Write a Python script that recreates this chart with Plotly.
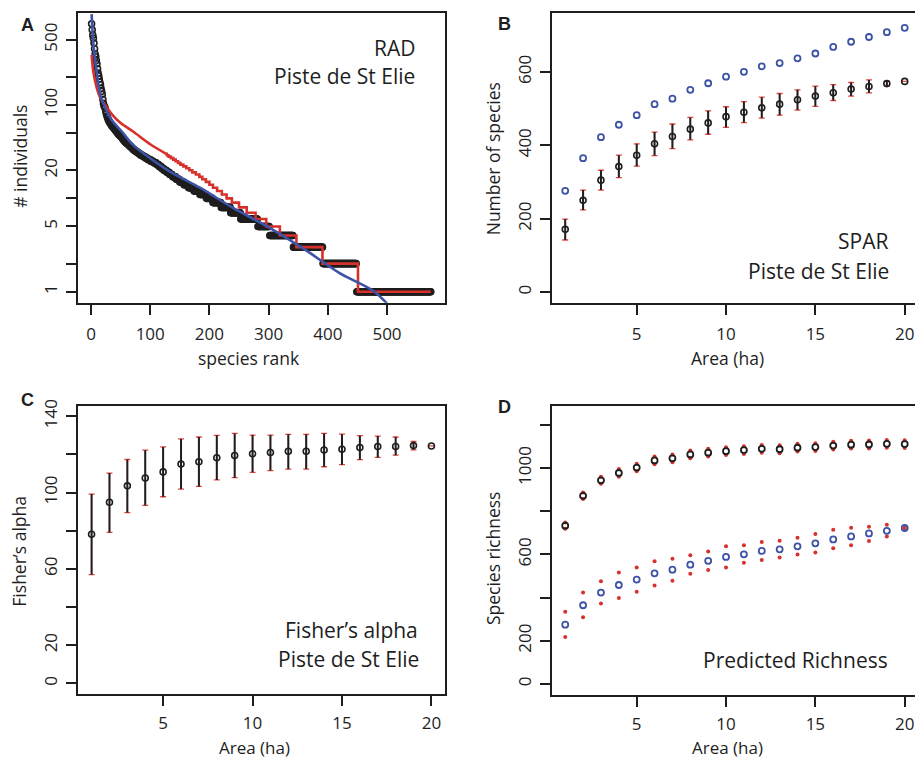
import numpy as np
import plotly.graph_objects as go

W, H = 915, 760

# ---------------- Panel A : rank abundance ----------------
black_levels = [740, 640, 560, 520, 460, 400, 352, 330, 300, 276, 245, 220, 205, 190, 175,
                165, 150, 140, 130, 115, 104, 98, 95, 92, 85, 80, 76, 73, 70, 68, 66, 64,
                63, 62, 60, 59, 58, 57, 56, 55, 54, 53, 52, 51, 50, 49,
                48, 47, 46, 45, 44, 43, 42, 41, 40, 39, 38, 37, 36, 35, 34, 33, 32, 31, 30,
                29, 28, 27, 26, 25, 24, 23, 22, 21, 20, 19, 18, 17, 16, 15, 14, 13, 12, 11,
                10, 9, 8, 7, 6, 5, 4, 3, 2, 1]
black_counts = [1] * 46 + [2, 1, 2, 1, 1, 1, 2, 1, 2, 2, 2, 2, 2, 2, 2, 3, 3, 3, 3,
                           4, 4, 4, 5, 5, 5, 4, 4, 4, 5, 5, 5, 6, 6, 7, 8, 9, 10, 11,
                           11, 14, 16, 17, 29, 20, 40, 50, 57, 126]

red_top_rank = [1, 4, 10, 15, 24, 35, 50, 71, 100, 127]
red_top_value = [345, 225, 150, 122, 100, 80, 64, 52, 38, 30]
red_levels = [29, 28, 27, 26, 25, 24, 23, 22, 21, 20, 19, 18, 17, 16, 15, 14, 13, 12, 11,
              10, 9, 8, 7, 6, 5, 4, 3, 2, 1]
red_counts = [3, 4, 4, 4, 4, 4, 5, 5, 5, 5, 6, 6, 5, 6, 6, 6, 7, 8, 8,
              9, 12, 13, 15, 18, 23, 28, 44, 60, 124]

blue_rank = [1, 4, 8, 12, 15, 18, 21, 27, 35, 52, 71, 128, 184, 240, 296, 364, 420, 476, 500]
blue_value = [940, 450, 270, 172, 132, 115, 104, 85, 69, 52, 37.4, 20.3, 13, 7.9, 5.07,
              2.75, 1.58, 1.03, 0.75]

# ---------------- Panel B : SPAR ----------------
area = list(range(1, 21))
b_mean = [171, 250, 305, 342, 373, 404, 424, 444, 461, 478, 490, 502, 512, 524, 534, 543, 553, 560, 568, 574]
b_hi = [199, 278, 332, 373, 404, 436, 458, 476, 494, 505, 519, 531, 541, 551, 561, 565, 571, 578, 575, 574]
b_lo = [142, 224, 278, 312, 343, 372, 391, 415, 430, 449, 462, 474, 482, 496, 506, 522, 534, 543, 561, 574]
b_blue = [276, 365, 422, 456, 482, 512, 527, 551, 569, 587, 600, 615, 624, 637, 650, 668, 682, 695, 708, 720]

# ---------------- Panel C : Fisher's alpha ----------------
c_mean = [78.1, 94.9, 103.5, 107.6, 110.8, 114.9, 116.1, 118.2, 119.4, 120.3, 121.0, 121.6,
          121.6, 122.3, 122.7, 123.6, 124.1, 124.1, 124.6, 124.4]
c_hi = [99.2, 110.2, 117.3, 122.2, 123.9, 128.1, 129.1, 130.0, 131.0, 130.1, 130.1, 130.5,
        130.5, 131.0, 130.6, 129.8, 129.6, 129.1, 126.8, 124.4]
c_lo = [57.0, 79.1, 89.5, 93.3, 97.8, 101.8, 103.2, 106.6, 107.8, 110.6, 111.5, 112.3,
        112.3, 113.5, 114.6, 117.2, 118.4, 119.6, 122.4, 124.4]

# ---------------- Panel D : predicted richness ----------------
d_black = [733, 871, 943, 977, 1002, 1035, 1045, 1063, 1071, 1078, 1083, 1089, 1087, 1094, 1097, 1104, 1108, 1109, 1112, 1111]
d_black_hi = [747, 886, 960, 995, 1020, 1053, 1063, 1081, 1089, 1096, 1101, 1107, 1105, 1112, 1115, 1122, 1126, 1127, 1130, 1129]
d_black_lo = [719, 857, 927, 960, 985, 1017, 1027, 1045, 1053, 1060, 1065, 1071, 1069, 1076, 1079, 1086, 1090, 1091, 1094, 1093]
d_blue = [274, 364, 423, 458, 483, 512, 529, 552, 570, 588, 600, 616, 623, 637, 651, 669, 683, 697, 709, 722]
d_blue_hi = [334, 423, 475, 516, 539, 568, 579, 596, 613, 637, 642, 657, 663, 677, 694, 714, 723, 728, 737, 722]
d_blue_lo = [217, 308, 372, 398, 427, 456, 478, 510, 527, 539, 561, 574, 585, 599, 609, 628, 642, 662, 683, 722]

RED = '#d8302b'
CAP = '#e5463e'
BLUE = '#3d54a6'
INK = '#1e1e1e'
FONT = 'Open Sans'

fig = go.Figure()

# Panel A traces
black_y = np.repeat(black_levels, black_counts)
black_x = np.arange(1, len(black_y) + 1)
fig.add_trace(go.Scatter(x=black_x, y=black_y, mode='markers', xaxis='x', yaxis='y',
                         marker=dict(symbol='circle-open', size=6, color=INK, line=dict(width=1.6, color=INK))))
red_y = np.repeat(red_levels, red_counts)
red_x = np.arange(red_top_rank[-1] + 1, red_top_rank[-1] + 1 + len(red_y))
fig.add_trace(go.Scatter(x=red_top_rank, y=red_top_value, mode='lines', xaxis='x', yaxis='y',
                         line=dict(color=RED, width=2.6, shape='spline', smoothing=0.8)))
fig.add_trace(go.Scatter(x=np.concatenate([[red_top_rank[-1]], red_x]),
                         y=np.concatenate([[red_top_value[-1]], red_y]),
                         mode='lines', xaxis='x', yaxis='y',
                         line=dict(color=RED, width=2.6, shape='hv')))
fig.add_trace(go.Scatter(x=blue_rank, y=blue_value, mode='lines', xaxis='x', yaxis='y',
                         line=dict(color=BLUE, width=2.6, shape='spline', smoothing=0.8)))

def err_traces(xa, ya, mean, hi, lo):
    up = [h - m for h, m in zip(hi, mean)]
    dn = [m - l for m, l in zip(mean, lo)]
    fig.add_trace(go.Scatter(x=area, y=mean, mode='markers', xaxis=xa, yaxis=ya,
                             marker=dict(size=1, color='rgba(0,0,0,0)'),
                             error_y=dict(type='data', array=up, arrayminus=dn, color=CAP,
                                          thickness=1.3, width=3)))
    fig.add_trace(go.Scatter(x=area, y=mean, mode='markers', xaxis=xa, yaxis=ya,
                             marker=dict(symbol='circle-open', size=6, color=INK,
                                         line=dict(width=1.6, color=INK)),
                             error_y=dict(type='data', array=up, arrayminus=dn, color=INK,
                                          thickness=2, width=0)))

# Panel B
fig.add_trace(go.Scatter(x=area, y=b_blue, mode='markers', xaxis='x2', yaxis='y2',
                         marker=dict(symbol='circle-open', size=6, color=BLUE, line=dict(width=1.8, color=BLUE))))
err_traces('x2', 'y2', b_mean, b_hi, b_lo)

# Panel C
err_traces('x3', 'y3', c_mean, c_hi, c_lo)

# Panel D
for arr in (d_black_hi, d_black_lo, d_blue_hi, d_blue_lo):
    fig.add_trace(go.Scatter(x=area, y=arr, mode='markers', xaxis='x4', yaxis='y4',
                             marker=dict(symbol='circle', size=4, color=RED)))
fig.add_trace(go.Scatter(x=area, y=d_black, mode='markers', xaxis='x4', yaxis='y4',
                         marker=dict(symbol='circle-open', size=6, color=INK, line=dict(width=1.8, color=INK))))
fig.add_trace(go.Scatter(x=area, y=d_blue, mode='markers', xaxis='x4', yaxis='y4',
                         marker=dict(symbol='circle-open', size=6, color=BLUE, line=dict(width=1.8, color=BLUE))))


def px_x(v):
    return v / W


def px_y(v):
    return 1 - v / H


def axis(domain, rng, tickvals, ticktext, anchor, mirror=True, angle=0, standoff=6, **kw):
    d = dict(domain=domain, range=rng, tickmode='array', tickvals=tickvals, ticktext=ticktext,
             ticks='outside', ticklen=10, tickwidth=1.5, tickcolor=INK,
             showline=True, linewidth=2, linecolor=INK, mirror=mirror,
             showgrid=False, zeroline=False, anchor=anchor, tickangle=angle,
             ticklabelstandoff=standoff,
             tickfont=dict(family=FONT, size=17, color=INK))
    d.update(kw)
    return d

xA = [px_x(78), px_x(445)]
xB = [px_x(551.7), 1.0]
yTop = [px_y(299), px_y(7)]
yBot = [px_y(693.5), px_y(402.7)]
ticks_area = [5, 10, 15, 20]

fig.update_layout(
    width=W, height=H, margin=dict(l=0, r=0, t=0, b=0),
    paper_bgcolor='white', plot_bgcolor='white', showlegend=False,
    xaxis=axis(xA, [-22, 598], [0, 100, 200, 300, 400, 500],
               ['0', '100', '200', '300', '400', '500'], 'y', standoff=5),
    yaxis=axis(yTop, [-0.117, 2.986], [1, 2, 5, 10, 20, 50, 100, 200, 500],
               ['1', '', '5', '', '20', '', '100', '', '500'], 'x', angle=-90, standoff=2,
               type='log'),
    xaxis2=axis(xB, [0.243, 20.576], ticks_area, ['5', '10', '15', '20'], 'y2', mirror=True, standoff=5),
    yaxis2=axis(yTop, [-28.6, 760.5], [0, 200, 400, 600], ['0', '200', '400', '600'], 'x2',
                mirror=False, angle=-90, standoff=2),
    xaxis3=axis(xA, [0.24, 20.76], ticks_area, ['5', '10', '15', '20'], 'y3', standoff=3),
    yaxis3=axis(yBot, [-5.6, 145.6], [0, 20, 40, 60, 80, 100, 120, 140],
                ['0', '20', '', '60', '', '100', '', '140'], 'x3', angle=-90, standoff=2),
    xaxis4=axis(xB, [0.243, 20.576], ticks_area, ['5', '10', '15', '20'], 'y4', mirror=True, standoff=3),
    yaxis4=axis([px_y(694), px_y(402.7)], [-49.6, 1289.6], [0, 200, 400, 600, 800, 1000, 1200],
                ['0', '200', '', '600', '', '1000', ''], 'x4', mirror=False, angle=-90, standoff=2),
)

ann = []

def text(x, y, s, size=21, anchor='right', bold=False, family=FONT, angle=0):
    ann.append(dict(x=px_x(x), y=px_y(y), xref='paper', yref='paper', text=s, showarrow=False,
                    xanchor=anchor, yanchor='middle', textangle=angle,
                    font=dict(family=family, size=size, color=INK)))

# panel letters
for lx, ly, s in ((27, 19, 'A'), (505, 18, 'B'), (27.5, 397, 'C'), (505, 404, 'D')):
    text(lx, ly, '<b>' + s + '</b>', size=18, anchor='center', family='Liberation Sans')

# in-panel labels
text(417, 42, 'RAD')
text(417, 71, 'Piste de St Elie')
text(890, 237, 'SPAR')
text(890.5, 267, 'Piste de St Elie')
text(419.5, 629, 'Fisher’s alpha')
text(421, 658, 'Piste de St Elie')
text(890, 659, 'Predicted Richness')

# axis titles
text(20, 152, '# individuals', size=17.5, anchor='center', angle=-90)
text(248.5, 355, 'species rank', size=17.5, anchor='center')
text(492.5, 154, 'Number of species', size=17.5, anchor='center', angle=-90)
text(727.5, 355, 'Area (ha)', size=17.5, anchor='center')
text(19.5, 549.5, 'Fisher’s alpha', size=17.5, anchor='center', angle=-90)
text(254.5, 747.5, 'Area (ha)', size=17, anchor='center')
text(492.5, 557, 'Species richness', size=17.5, anchor='center', angle=-90)
text(727.5, 747.5, 'Area (ha)', size=17, anchor='center')

fig.update_layout(annotations=ann)
fig.write_html('out.html')
